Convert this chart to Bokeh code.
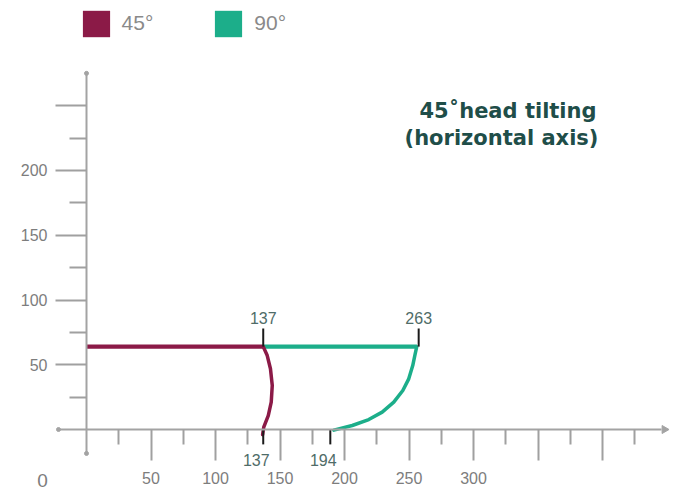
import math
from bokeh.plotting import figure
from bokeh.models import (LinearAxis, FixedTicker, Range1d, Legend, LegendItem,
                          Label, ColumnDataSource)
from bokeh.core.properties import value
from bokeh.embed import file_html
from bokeh.resources import INLINE

# ---------------- data ----------------
series = ["45°", "90°"]
series_colors = ["#8b1a47", "#1cae8a"]

# horizontal reach at working height
reach_start = [0, 137]
reach_end = [137, 256]
reach_height = [64, 64]

# curved return of each head down to the base line
curve45_x = [137, 140.1, 142.6, 144.0, 143.2, 140.9, 137.4, 136.5]
curve45_y = [64, 57.1, 46.9, 34.0, 21.1, 10.8, 1.8, -4.0]

curve90_x = [256, 254.5, 252.9, 249.8, 245.2, 238.2, 229.2, 218.8, 206.0, 191.7]
curve90_y = [64, 57.1, 49.4, 39.1, 30.1, 21.1, 13.4, 7.7, 3.1, -0.5]

# dimension marks
top_marks = [137, 257.5]
top_mark_labels = ["137", "263"]
bottom_marks = [137, 189]
bottom_mark_labels = ["137", "194"]

# axes
x_major = [50, 100, 150, 200, 250, 300, 350, 400]
x_tick_labels = ["50", "100", "150", "200", "250", "300", "", ""]
x_minor = [25, 75, 125, 175, 225, 275, 325, 375, 425]
y_major = [50, 100, 150, 200, 250]
y_tick_labels = ["50", "100", "150", "200", ""]
y_minor = [25, 75, 125, 175, 225]
origin_label = ["0"]

title_lines = ["45˚head tilting", "(horizontal axis)"]

# ---------------- style ----------------
AXIS_GRAY = "#a3a3a3"
TICK_GRAY = "#a0a0a0"
LABEL_GRAY = "#7d7d7d"
MARK_TEXT = "#4f6c68"
TITLE_COLOR = "#1f4e49"
NUM_FONT = "Liberation Sans"

W, H = 675, 490
p = figure(width=W, height=H, output_backend="svg", toolbar_location=None,
           x_range=Range1d(-66.67, 456.59), y_range=Range1d(-47.10, 331.27),
           x_axis_type=None, y_axis_type=None, min_border=0,
           outline_line_color=None, background_fill_color="white",
           border_fill_color="white")

x_lo, x_hi = -21.7, 446.0
y_lo, y_hi = -18.5, 275.0

xaxis = LinearAxis(fixed_location=0, bounds=(x_lo, x_hi),
                   ticker=FixedTicker(ticks=x_major, minor_ticks=x_minor),
                   major_label_overrides=dict(zip(x_major, x_tick_labels)))
yaxis = LinearAxis(fixed_location=0, bounds=(y_lo, y_hi),
                   ticker=FixedTicker(ticks=y_major, minor_ticks=y_minor),
                   major_label_overrides=dict(zip(y_major, y_tick_labels)))
for ax, tout, mout, standoff in ((xaxis, 31, 15, 11), (yaxis, 31, 17, 8)):
    ax.axis_line_color = AXIS_GRAY
    ax.axis_line_width = 2
    ax.major_tick_in = 0
    ax.major_tick_out = tout
    ax.minor_tick_in = 0
    ax.minor_tick_out = mout
    ax.major_tick_line_color = TICK_GRAY
    ax.major_tick_line_width = 2
    ax.minor_tick_line_color = TICK_GRAY
    ax.minor_tick_line_width = 2
    ax.major_label_text_font = NUM_FONT
    ax.major_label_text_font_size = "16px"
    ax.major_label_text_color = LABEL_GRAY
    ax.major_label_standoff = standoff
p.add_layout(xaxis, "below")
p.add_layout(yaxis, "left")

# axis end decorations
p.scatter(x=[x_hi + 2], y=[0], marker="triangle", angle=-math.pi / 2, size=8,
          fill_color=AXIS_GRAY, line_color=AXIS_GRAY)
p.scatter(x=[x_lo, 0, 0], y=[0, y_lo, y_hi], marker="circle", size=4,
          fill_color=AXIS_GRAY, line_color=AXIS_GRAY)

# horizontal reach bars (also legend glyphs)
src = ColumnDataSource(dict(y=reach_height, left=reach_start, right=reach_end,
                            color=series_colors, name=series))
bars = p.hbar(y="y", left="left", right="right", height=3.1, source=src,
              fill_color="color", line_color=None)

# curves
p.line(curve45_x, curve45_y, line_color=series_colors[0], line_width=3.5,
       line_cap="round", line_join="round")
p.line(curve90_x, curve90_y, line_color=series_colors[1], line_width=3.5,
       line_cap="round", line_join="round")

# dimension marks
p.segment(x0=top_marks, y0=reach_height, x1=top_marks, y1=[h + 14 for h in reach_height],
          line_color="#1a1a1a", line_width=2)
p.segment(x0=bottom_marks, y0=[0, 0], x1=bottom_marks, y1=[-11.5, -11.5],
          line_color="#1a1a1a", line_width=2)
p.text(x=top_marks, y=reach_height, text=top_mark_labels, y_offset=-29,
       text_align="center", text_baseline="middle", text_font=value(NUM_FONT),
       text_font_size="16px", text_color=MARK_TEXT)
p.text(x=bottom_marks, y=[0, 0], text=bottom_mark_labels, x_offset=-7, y_offset=30,
       text_align="center", text_baseline="middle", text_font=value(NUM_FONT),
       text_font_size="16px", text_color=MARK_TEXT)
p.text(x=[0], y=[0], text=origin_label, x_offset=-44, y_offset=51,
       text_align="center", text_baseline="middle", text_font=value(NUM_FONT),
       text_font_size="19px", text_color=LABEL_GRAY)

# legend
legend = Legend(items=[LegendItem(label=series[i], renderers=[bars], index=i) for i in range(2)],
                orientation="horizontal", location=(78.6, 450.3),
                glyph_width=34, glyph_height=33, label_standoff=9, spacing=58,
                padding=0, margin=0, border_line_color=None, background_fill_alpha=0,
                label_text_font="Liberation Sans", label_text_font_size="21px",
                label_text_color="#8a8a8a")
p.add_layout(legend)

# title
p.add_layout(Label(x=507.5, y=380, x_units="screen", y_units="screen", text=title_lines[0],
                   text_align="center", text_baseline="alphabetic", text_font="DejaVu Sans",
                   text_font_style="bold", text_font_size="21px", text_color=TITLE_COLOR))
p.add_layout(Label(x=501, y=353, x_units="screen", y_units="screen", text=title_lines[1],
                   text_align="center", text_baseline="alphabetic", text_font="DejaVu Sans",
                   text_font_style="bold", text_font_size="21px", text_color=TITLE_COLOR))

open("out.html", "w").write(file_html(p, INLINE, "chart"))
